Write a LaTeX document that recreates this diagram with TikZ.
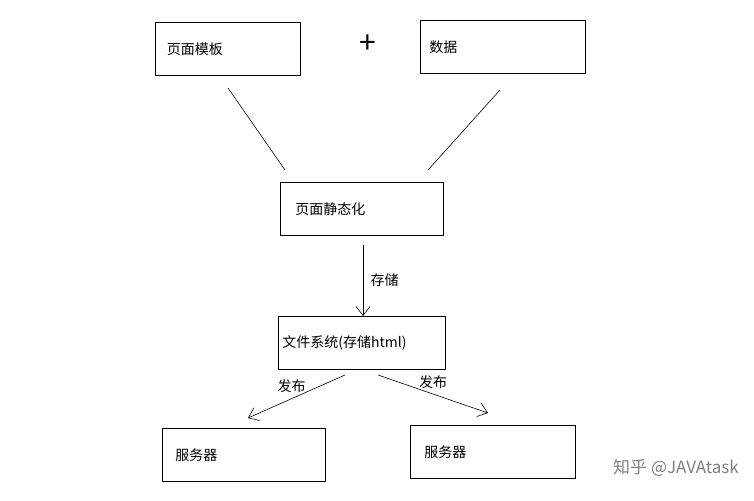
\documentclass[tikz,border=0pt]{standalone}
\usepackage{fontspec}
\setmainfont{Liberation Sans}
\newfontfamily\cjk{Noto Sans CJK SC}
\usetikzlibrary{arrows,arrows.meta}
\tikzset{
	box/.style={draw,thick,minimum height=53pt,anchor=north west,inner sep=0pt,align=left,font=\cjk\fontsize{14pt}{16pt}\selectfont},
	tag/.style={font=\cjk\fontsize{14pt}{16pt}\selectfont},
	conn/.style={line width=0.6pt}
}
\begin{document}
\begin{tikzpicture}[x=1pt,y=-1pt,>={Straight Barb[length=9pt,width=14pt]}]
		\useasboundingbox (0,0) rectangle (754,500);
		\node[box,minimum width=145pt,text width=122pt] (tpl)  at (155,22)  {页面模板};
		\node[box,minimum width=165pt,text width=147pt] (data) at (420,20)  {数据};
		\node[font=\cjk\fontsize{30pt}{30pt}\selectfont] (plus) at (368,44) {+};
		\node[box,minimum width=163pt,text width=133pt] (stat) at (280,182) {页面静态化};
		\node[box,minimum width=167pt,text width=159pt] (fs)   at (278,316) {文件系统(存储html)};
		\node[box,minimum width=163pt,text width=137pt] (srv1) at (162,428) {服务器};
		\node[box,minimum width=165pt,text width=137pt] (srv2) at (410,425) {服务器};

		\coordinate (t1) at (228,88);  \coordinate (t2) at (285,170);
		\coordinate (d1) at (500,90);  \coordinate (d2) at (428,170);
		\draw[conn] (t1) -- (t2);
		\draw[conn] (d1) -- (d2);

		\draw[conn,->] (363,245) -- (fs.north -| 363,0) node[tag,midway,right=4pt] {存储};
		\draw[conn,->] (345,375) -- (248,418) node[tag,pos=0.55,above=2pt] {发布};
		\draw[conn,->] (378,375) -- (488,413) node[tag,pos=0.5,above=2pt] {发布};

		\node[tag,text=gray,font=\cjk\fontsize{17pt}{18pt}\selectfont] (mark) at (676,468) {知乎 @JAVAtask};
\end{tikzpicture}
\end{document}
